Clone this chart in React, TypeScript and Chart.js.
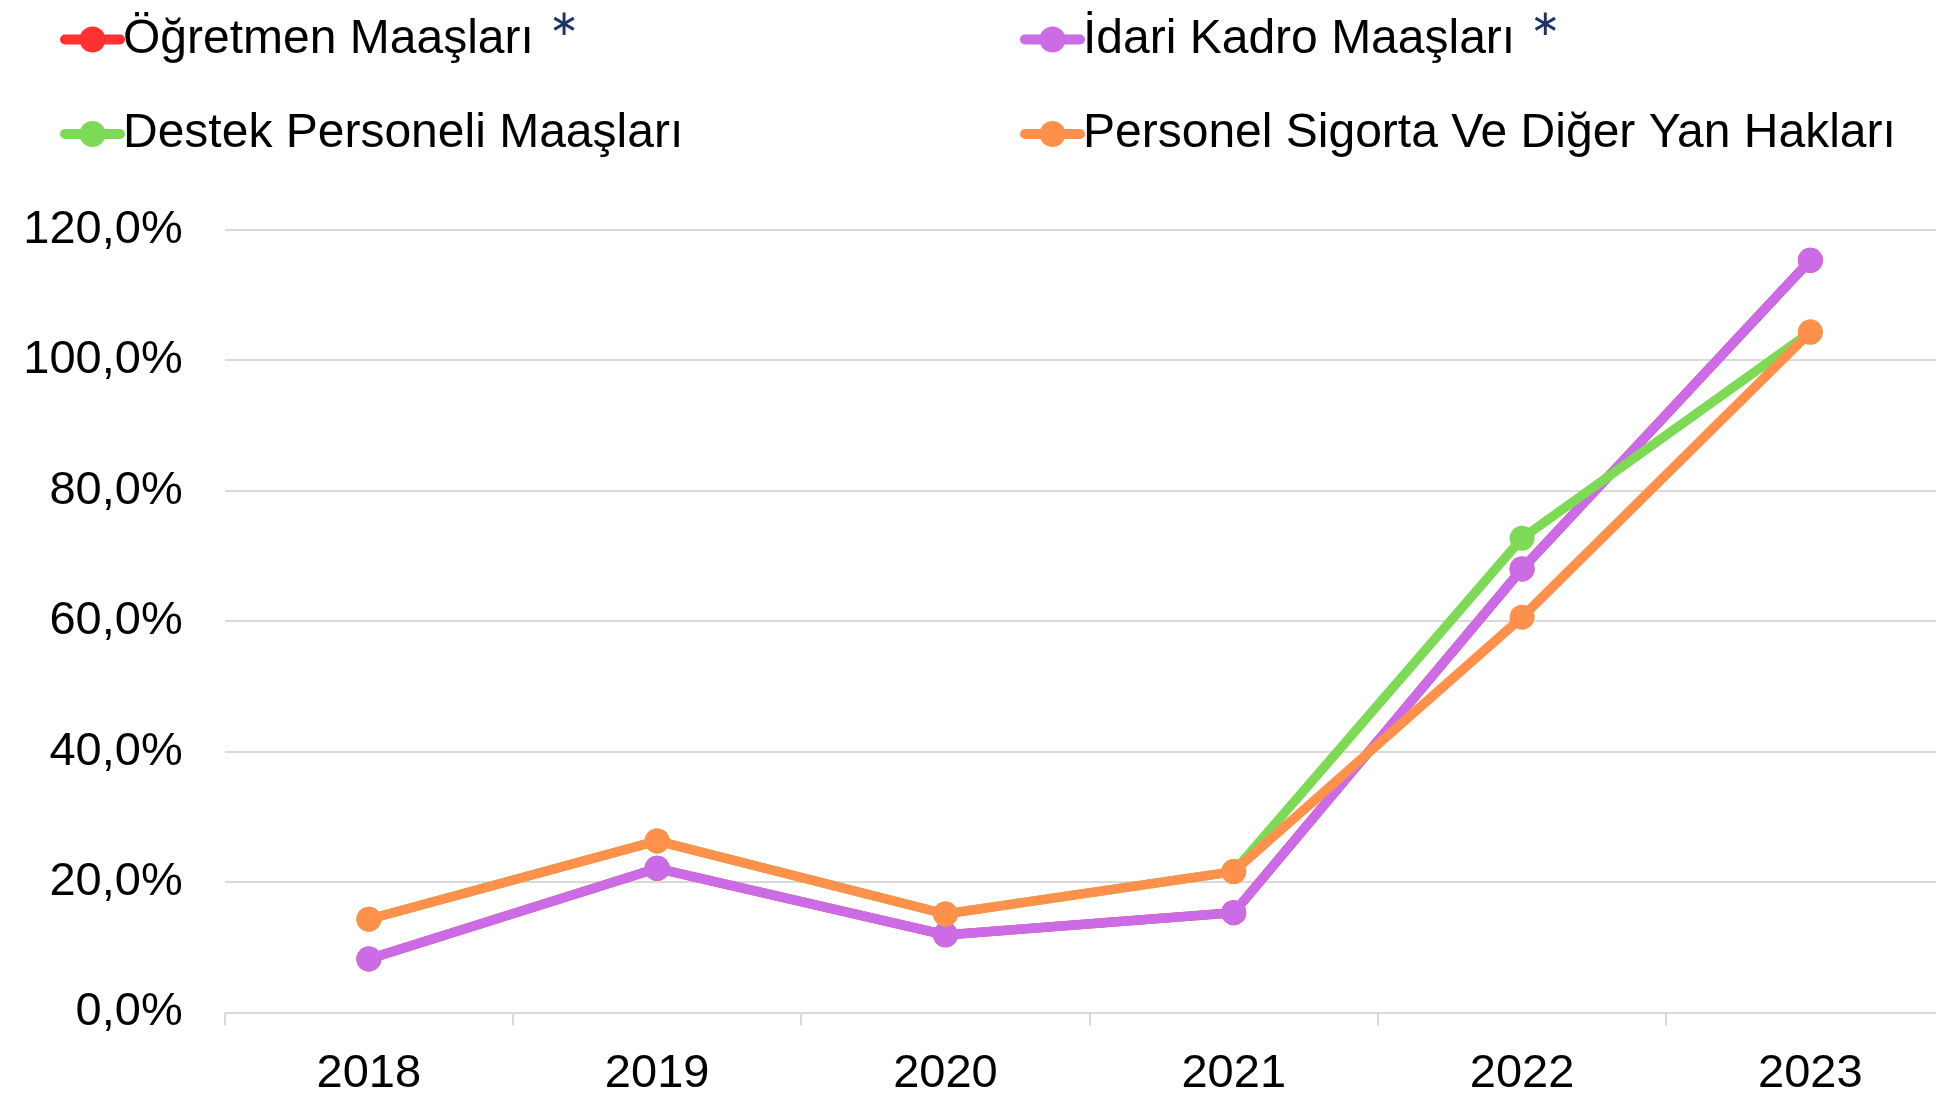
import React, { useEffect, useRef } from "react";
import { Chart, registerables } from "chart.js";

Chart.register(...registerables);

const years = ["2018", "2019", "2020", "2021", "2022", "2023"];
const ogretmen = [8.2, 22.1, 11.9, 15.3, 68.0, 115.3];
const idari = [8.2, 22.1, 11.9, 15.3, 68.0, 115.3];
const destek = [14.3, 26.3, 15.1, 21.6, 72.7, 104.3];
const sigorta = [14.3, 26.3, 15.1, 21.6, 60.6, 104.3];
const seriesNames = [
  "Öğretmen Maaşları",
  "İdari Kadro Maaşları",
  "Destek Personeli Maaşları",
  "Personel Sigorta Ve Diğer Yan Hakları",
];
const starred = [true, true, false, false];
const colors = ["#FF3131", "#CB6CE6", "#7ED957", "#FF914D"];
const yTicks = [0, 20, 40, 60, 80, 100, 120];

const FONT = '"Liberation Sans", Arial, sans-serif';

const legendPlugin = {
  id: "customLegend",
  afterDraw(chart: any) {
    const ctx = chart.ctx;
    const colX = [62, 1022];
    const rowY = [39.5, 134];
    chart.data.datasets.forEach((ds: any, i: number) => {
      const x0 = colX[i % 2];
      const y = rowY[Math.floor(i / 2)];
      ctx.save();
      ctx.strokeStyle = ds.borderColor;
      ctx.lineWidth = 10;
      ctx.lineCap = "round";
      ctx.beginPath();
      ctx.moveTo(x0 + 3, y);
      ctx.lineTo(x0 + 58, y);
      ctx.stroke();
      ctx.fillStyle = ds.borderColor;
      ctx.beginPath();
      ctx.arc(x0 + 30.5, y, 13, 0, Math.PI * 2);
      ctx.fill();
      ctx.font = `48px ${FONT}`;
      ctx.fillStyle = "#000";
      ctx.textBaseline = "middle";
      ctx.textAlign = "left";
      ctx.fillText(ds.label, x0 + 61, y);
      if (starred[i]) {
        const w = ctx.measureText(ds.label).width;
        ctx.font = `36px "DejaVu Sans", sans-serif`;
        ctx.fillStyle = "#1F3464";
        ctx.textAlign = "center";
        ctx.textBaseline = "alphabetic";
        const m = ctx.measureText("∗");
        const cy = 23;
        const by = cy + (m.actualBoundingBoxAscent - m.actualBoundingBoxDescent) / 2;
        ctx.fillText("∗", x0 + 61 + w + 30, by);
      }
      ctx.restore();
    });
  },
};

export default function App() {
  const ref = useRef<HTMLCanvasElement>(null);
  useEffect(() => {
    if (!ref.current) return;
    const allData = [ogretmen, idari, destek, sigorta];
    const chart = new Chart(ref.current, {
      type: "line",
      data: {
        labels: years,
        datasets: allData.map((d, i) => ({
          label: seriesNames[i],
          data: d,
          order: allData.length - 1 - i,
          borderColor: colors[i],
          backgroundColor: colors[i],
          borderWidth: 9.5,
          pointRadius: 12.5,
          pointBorderWidth: 0,
          pointBackgroundColor: colors[i],
          tension: 0,
          fill: false,
        })),
      },
      options: {
        responsive: false,
        animation: false,
        devicePixelRatio: 1,
        layout: { padding: { left: 23, right: 1.5, top: 229.7, bottom: 1 } },
        plugins: {
          legend: { display: false },
          tooltip: { enabled: false },
        },
        scales: {
          x: {
            offset: true,
            grid: {
              offset: true,
              drawOnChartArea: false,
              drawTicks: true,
              tickLength: 13,
              color: "#D9D9D9",
              lineWidth: 2,
            },
            border: { display: true, color: "#D9D9D9", width: 2 },
            ticks: {
              color: "#000",
              padding: 25,
              font: { family: FONT, size: 47, lineHeight: 1.0 },
            },
            afterFit: (axis: any) => {
              axis.height = 86.5;
            },
          },
          y: {
            min: 0,
            max: 120,
            afterBuildTicks: (axis: any) => {
              axis.ticks = yTicks.map((v) => ({ value: v }));
            },
            afterFit: (axis: any) => {
              axis.width = 201.7;
            },
            grid: { color: "#D9D9D9", lineWidth: 2, drawTicks: false },
            border: { display: false },
            ticks: {
              color: "#000",
              padding: 42,
              font: { family: FONT, size: 47 },
              callback: (v: any) => Number(v).toFixed(1).replace(".", ",") + "%",
            },
          },
        },
      },
      plugins: [legendPlugin],
    });
    return () => chart.destroy();
  }, []);
  return (
    <div
      style={{
        position: "fixed",
        left: 0,
        top: 0,
        width: 1936,
        height: 1094,
        overflow: "hidden",
        background: "#fff",
      }}
    >
      <canvas ref={ref} width={1967} height={1100} style={{ display: "block" }} />
    </div>
  );
}
